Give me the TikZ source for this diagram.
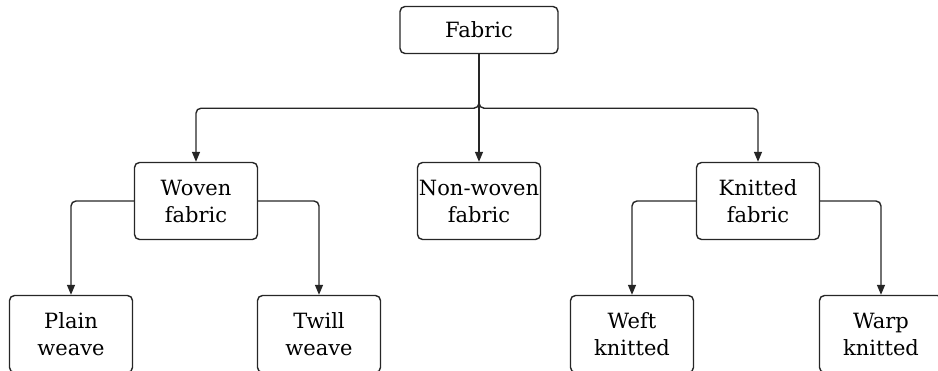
\documentclass[tikz,border=0pt]{standalone}
\usepackage{fontspec}
\setmainfont{DejaVu Serif}
\usetikzlibrary{arrows.meta, positioning}

\begin{document}
\begin{tikzpicture}[
    x=1pt, y=-1pt,
    box/.style={draw=black!85, rectangle, rounded corners=5pt, line width=1.4pt,
                minimum width=123pt, minimum height=77pt, inner sep=0pt,
                align=center, font=\fontsize{21}{27}\selectfont},
    topbox/.style={box, minimum width=158pt, minimum height=47pt},
    arrow/.style={-{Triangle[length=10pt,width=8pt]}, line width=1.4pt, black!85, rounded corners=5pt}
]
    \useasboundingbox (0,0) rectangle (938,370);
    % Nodes
    \node[topbox] (fabric) at (479,30) {Fabric};
    \node[box] (woven) at (196,201) {Woven\\fabric};
    \node[box] (nonwoven) at (479,201) {Non-woven\\fabric};
    \node[box] (knitted) at (758,201) {Knitted\\fabric};
    \node[box] (plain) at (71,334) {Plain\\weave};
    \node[box] (twill) at (319,334) {Twill\\weave};
    \node[box] (weft) at (632,334) {Weft\\knitted};
    \node[box] (warp) at (881,334) {Warp\\knitted};

    % Arrows
    \draw[arrow] (fabric.south) -- ++(0,54) -| (woven.north);
    \draw[arrow] (fabric.south) -- ++(0,54) -| (knitted.north);
    \draw[arrow] (fabric) -- (nonwoven);
    \draw[arrow] (woven.west) -| (plain.north);
    \draw[arrow] (woven.east) -| (twill.north);
    \draw[arrow] (knitted.west) -| (weft.north);
    \draw[arrow] (knitted.east) -| (warp.north);
\end{tikzpicture}
\end{document}
